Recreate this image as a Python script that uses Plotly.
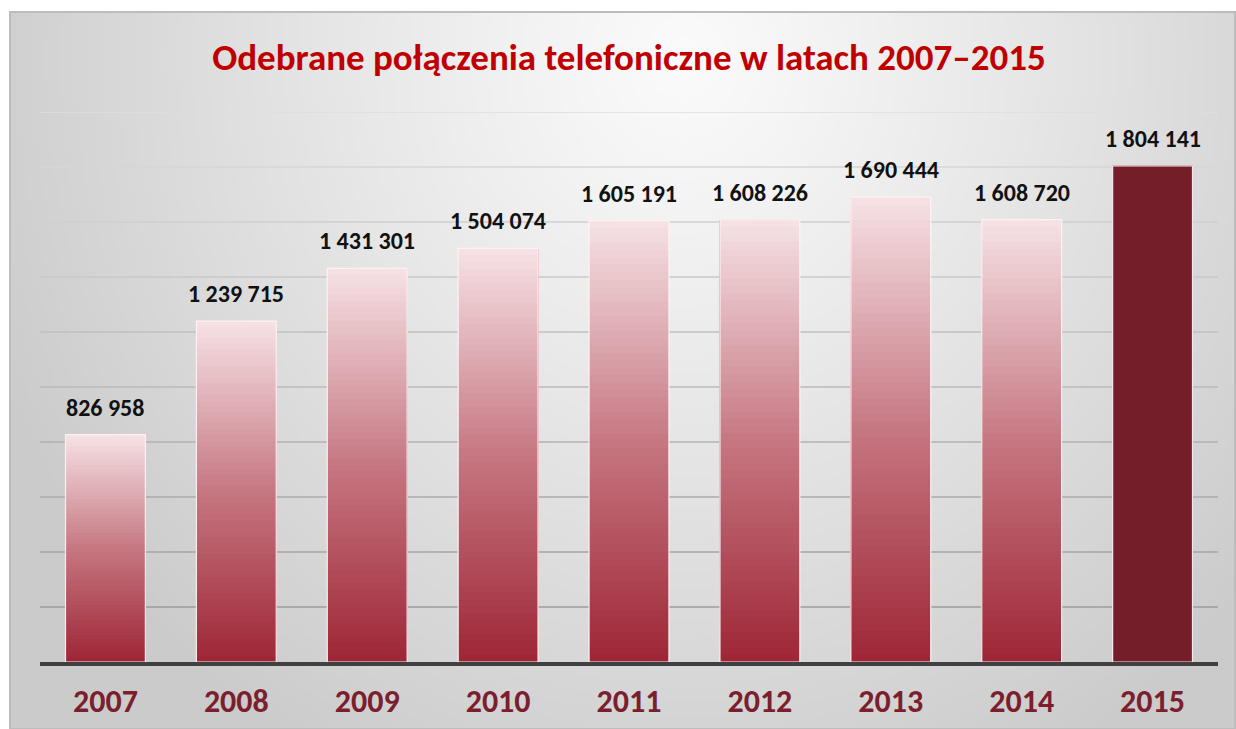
import base64
import struct
import zlib

import numpy as np
import plotly.graph_objects as go

# ---------------- data ----------------
years = ["2007", "2008", "2009", "2010", "2011", "2012", "2013", "2014", "2015"]
calls = [826958, 1239715, 1431301, 1504074, 1605191, 1608226, 1690444, 1608720, 1804141]
title_text = "Odebrane połączenia telefoniczne w latach 2007–2015"
grid_values = [200000, 400000, 600000, 800000, 1000000, 1200000, 1400000, 1600000, 1800000, 2000000]

# ---------------- styling ----------------
FONT = "Carlito, Lato, 'Open Sans', sans-serif"
W, H = 1236, 729
ML, MR, MT, MB = 40, 18, 112, 67
PW, PH = W - ML - MR, H - MT - MB

BOTTOM = np.array([158, 38, 54])
MID = np.array([198, 120, 130])
TOP = np.array([246, 227, 230])
LAST_COLOR = "#741e29"


def grad_color(t):
    if t < 0.5:
        c = BOTTOM + (MID - BOTTOM) * (t / 0.5)
    else:
        c = MID + (TOP - MID) * ((t - 0.5) / 0.5)
    c = np.clip(c, 0, 255).astype(int)
    return f"rgb({c[0]},{c[1]},{c[2]})"


def make_bg_png(w=240, h=140):
    xs = np.linspace(0, 1, w)
    ys = np.linspace(0, 1, h)
    X, Y = np.meshgrid(xs, ys)
    d = np.sqrt(((X - 0.55) / 0.62) ** 2 + ((Y - 0.06) / 1.15) ** 2)
    d = np.clip(d, 0, 1)
    val = 251 - 48 * d ** 1.1
    img = np.clip(val, 0, 255).astype(np.uint8)
    raw = b"".join(b"\x00" + img[r].tobytes() for r in range(h))

    def chunk(tag, data):
        c = struct.pack(">I", len(data)) + tag + data
        return c + struct.pack(">I", zlib.crc32(tag + data) & 0xFFFFFFFF)

    png = b"\x89PNG\r\n\x1a\n"
    png += chunk(b"IHDR", struct.pack(">IIBBBBB", w, h, 8, 0, 0, 0, 0))
    png += chunk(b"IDAT", zlib.compress(raw, 9))
    png += chunk(b"IEND", b"")
    return "data:image/png;base64," + base64.b64encode(png).decode()


def px_x(px):
    return (px - ML) / PW


def px_y(py):
    return (H - MB - py) / PH


fig = go.Figure()

# gradient bars: each layer starts higher up the bar and reaches its top,
# so later (lighter) layers cover the upper part of earlier ones without seams
N = 60
for k in range(N):
    t = (k + 0.5) / N
    col = grad_color(t)
    colors = [col] * (len(years) - 1) + [LAST_COLOR]
    fig.add_trace(go.Bar(
        x=years,
        y=[v * (N - k) / N for v in calls],
        base=[v * k / N for v in calls],
        marker=dict(color=colors, line=dict(width=0)),
        hoverinfo="skip",
        showlegend=False,
    ))

# outline of each bar
fig.add_trace(go.Bar(
    x=years,
    y=calls,
    marker=dict(color="rgba(0,0,0,0)", line=dict(color="rgba(255,242,244,0.95)", width=1.2)),
    hovertemplate="%{x}: %{y:,}<extra></extra>",
    showlegend=False,
))

# value labels
for i, v in enumerate(calls):
    fig.add_annotation(
        x=i, y=v, xref="x", yref="y",
        text="<b>" + f"{v:,}".replace(",", " ") + "</b>",
        showarrow=False, yanchor="bottom", yshift=11,
        font=dict(family=FONT, size=24, color="#111111"),
    )

# gridlines (lighter near the top, darker near the bottom)
shapes = []
for g in grid_values:
    t = g / grid_values[-1]
    c = int(150 + (222 - 150) * t)
    shapes.append(dict(type="line", xref="paper", yref="y", x0=0, x1=1, y0=g, y1=g,
                       line=dict(color=f"rgb({c},{c},{c})", width=1.6), layer="below"))
# frame
shapes.append(dict(type="rect", xref="paper", yref="paper",
                   x0=px_x(10), x1=px_x(1235), y0=px_y(12), y1=px_y(729),
                   line=dict(color="#bdbdbd", width=2), fillcolor="rgba(0,0,0,0)", layer="below"))

fig.update_layout(
    width=W, height=H, autosize=False,
    margin=dict(l=ML, r=MR, t=MT, b=MB, pad=0, autoexpand=False),
    paper_bgcolor="white",
    plot_bgcolor="rgba(0,0,0,0)",
    barmode="overlay",
    bargap=0.39,
    separators=", ",
    font=dict(family=FONT),
    title=dict(
        text=f"<b>{title_text}</b>",
        x=0.5, xref="paper", xanchor="center",
        y=1 - 57 / H, yref="container", yanchor="middle",
        font=dict(family=FONT, size=37, color="#c00000"),
    ),
    xaxis=dict(
        type="category",
        range=[-0.5, len(years) - 0.5],
        automargin=False,
        showgrid=False, zeroline=False,
        showline=True, linecolor="#404040", linewidth=4,
        ticks="", ticklabelstandoff=8,
        tickfont=dict(family=FONT, size=32, color="#7b1f2e", weight="bold"),
        fixedrange=True,
    ),
    yaxis=dict(
        range=[0, 2000000],
        automargin=False,
        showgrid=False, zeroline=False, showline=False,
        showticklabels=False, ticks="",
        fixedrange=True,
    ),
    shapes=shapes,
    images=[dict(
        source=make_bg_png(), xref="paper", yref="paper",
        x=px_x(10), y=px_y(12), sizex=px_x(1236) - px_x(10), sizey=px_y(12) - px_y(729),
        xanchor="left", yanchor="top", sizing="stretch", layer="below",
    )],
)

fig.write_html(
    "out.html",
    config={"displayModeBar": False},
    post_script="document.body.style.margin='0';document.body.style.overflow='hidden';",
)
